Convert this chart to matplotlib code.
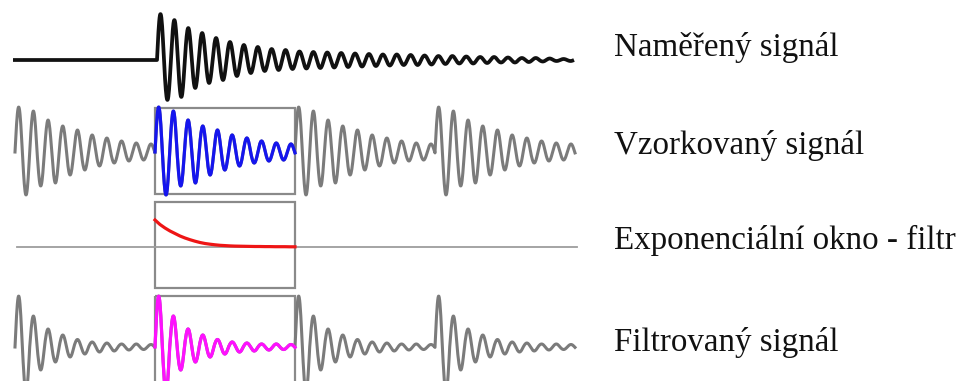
import numpy as np
import matplotlib
matplotlib.use("Agg")
import matplotlib.pyplot as plt
from matplotlib.patches import Rectangle

# ---------------------------------------------------------------------------
# Signal data (layout units: 1 unit = 1 px of the 966 x 381 canvas)
# ---------------------------------------------------------------------------
row_labels = ["Naměřený signál", "Vzorkovaný signál",
              "Exponenciální okno - filtr", "Filtrovaný signál"]

# Measured response: signed peak value of each half-cycle after the impact
measured_peaks = [46, -40, 40, -37, 32, -28, 27, -23, 22, -20,
                  18, -16, 15, -13, 13, -11, 11, -10, 10, -9,
                  8.5, -8.5, 8, -8, 7.5, -7.5, 7, -7, 6.5, -6.5,
                  6, -6, 5.5, -5.5, 5.5, -5, 5, -5, 4.5, -4.5,
                  4, -4, 4, -3.5, 3.5, -3.5, 3, -3, 3, -2.5,
                  2.5, -2.5, 2, -2, 2, -1.5, 1.5, -1, 1, -1]

# One record of the sampled signal (repeated in every acquisition window)
sampled_peaks = [45, -43, 41, -34, 32, -31, 26, -23, 22, -18,
                 17, -14, 14, -11, 11, -9, 9, -8, 8, -6]

# Exponential window sampled every 5 units across one record
window_values = [27, 22.5, 19, 16, 13.5, 11, 9, 7.3, 5.8, 4.5,
                 3.5, 2.8, 2.2, 1.7, 1.4, 1.1, 0.9, 0.8, 0.7, 0.6,
                 0.5, 0.5, 0.4, 0.4, 0.3, 0.3, 0.3, 0.2, 0.2]

# One record after applying the window
filtered_peaks = [51, -45, 31, -23, 18, -15, 12, -10, 7.5, -7,
                  5, -5, 4, -4, 3, -3, 3, -2.5, 2.5, -2.5]

# Geometry of the diagram
baselines = [60, 152, 247, 347]
record_starts = [15, 155, 295, 435]
record_len = 140
highlight = 1                 # index of the record drawn in colour
impact_x = 157
measured_start = 13
half_period_measured = 6.95
half_period_record = 7.35
window_step = 5
line_span = (17, 577)
label_x = 614
label_baselines = [56, 154, 249, 351]
boxes = [(108, 86), (202, 86), (296, 100)]   # (top, height) for rows 2-4

GRAY = "#7b7b7b"


def ringing(x0, half_period, peaks, x_end=None, n=20):
    """Oscillation built from half-sine arcs with the given signed peaks."""
    xs, ys = [], []
    for k, a in enumerate(peaks):
        t = np.linspace(0, 1, n)
        xs.append(x0 + (k + t) * half_period)
        ys.append(a * np.sin(np.pi * t))
    x = np.concatenate(xs)
    y = np.concatenate(ys)
    if x_end is not None:
        keep = x <= x_end
        x, y = x[keep], y[keep]
        if x[-1] < x_end:
            k = int((x_end - x0) // half_period)
            if k < len(peaks):
                t = (x_end - x0) / half_period - k
                x = np.append(x, x_end)
                y = np.append(y, peaks[k] * np.sin(np.pi * t))
    return x, y


fig = plt.figure(figsize=(9.66, 3.81), dpi=100)
ax = fig.add_axes([0, 0, 1, 1])
ax.set_xlim(0, 966)
ax.set_ylim(381, 0)
ax.axis("off")

# Row 1: measured signal (quiet, then impact response)
x, y = ringing(impact_x, half_period_measured, measured_peaks)
x = np.concatenate([[measured_start], x])
y = np.concatenate([[0], y])
ax.plot(x, baselines[0] - y, color="#111111", lw=2.7,
        solid_joinstyle="round", solid_capstyle="butt", zorder=3)

# Window frames for rows 2-4
for top, h in boxes:
    ax.add_patch(Rectangle((record_starts[highlight], top), record_len, h,
                           fill=False, ec="#8a8a8a", lw=1.6, zorder=1))

# Row 2: sampled signal, record after record
gx, gy = [], []
for s in record_starts:
    x, y = ringing(s, half_period_record, sampled_peaks, s + record_len)
    gx.append(x)
    gy.append(y)
ax.plot(np.concatenate(gx), baselines[1] - np.concatenate(gy),
        color=GRAY, lw=2.2, zorder=2)
ax.plot(gx[highlight], baselines[1] - gy[highlight], color="#1515ee",
        lw=2.3, zorder=3)

# Row 3: exponential window
ax.plot(line_span, [baselines[2]] * 2, color="#9d9d9d", lw=1.3, zorder=2)
wx = record_starts[highlight] + window_step * np.arange(len(window_values))
ax.plot(wx, baselines[2] - np.asarray(window_values), color="#ee1515",
        lw=2.3, zorder=3)

# Row 4: filtered signal
fx, fy = [], []
for s in record_starts:
    x, y = ringing(s, half_period_record, filtered_peaks, s + record_len)
    fx.append(x)
    fy.append(y)
ax.plot(np.concatenate(fx), baselines[3] - np.concatenate(fy),
        color=GRAY, lw=2.2, zorder=2)
ax.plot(fx[highlight], baselines[3] - fy[highlight], color="#ff10ff",
        lw=2.3, zorder=3)

# Row captions
for text, yb in zip(row_labels, label_baselines):
    ax.text(label_x, yb, text, fontsize=23.8, family="Liberation Serif",
            color="#111111", va="baseline", ha="left")

fig.savefig("out.png", dpi=100)
